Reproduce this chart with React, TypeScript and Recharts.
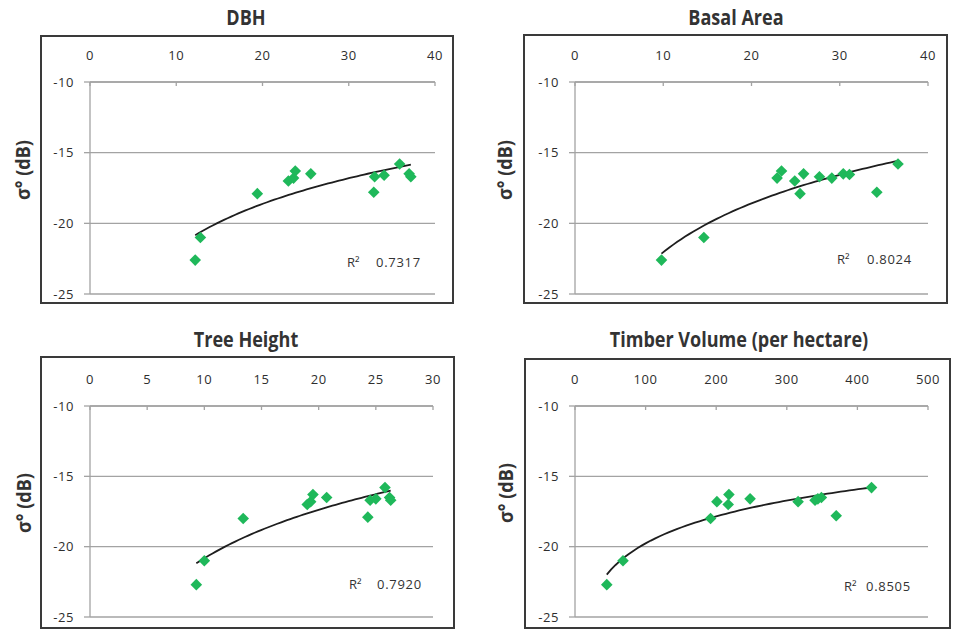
import React from "react";
import { ScatterChart, Scatter, XAxis, YAxis, CartesianGrid } from "recharts";

// ---------- data ----------
const panelTitles = ["DBH", "Basal Area", "Tree Height", "Timber Volume (per hectare)"];
const r2Values = ["0.7317", "0.8024", "0.7920", "0.8505"];

const dbhX = [12.2, 12.8, 19.4, 23.0, 23.6, 23.8, 25.6, 32.9, 33.0, 34.1, 35.9, 37.0, 37.2];
const dbhY = [-22.6, -21.0, -17.9, -17.0, -16.8, -16.3, -16.5, -17.8, -16.7, -16.6, -15.8, -16.5, -16.7];

const basalX = [9.8, 14.6, 22.9, 23.4, 24.9, 25.5, 25.9, 27.7, 29.1, 30.4, 31.1, 34.2, 36.6];
const basalY = [-22.6, -21.0, -16.8, -16.3, -17.0, -17.9, -16.5, -16.7, -16.8, -16.5, -16.55, -17.8, -15.8];

const heightX = [9.3, 10.0, 13.4, 19.0, 19.3, 19.5, 20.7, 24.3, 24.5, 25.0, 25.8, 26.2, 26.3];
const heightY = [-22.7, -21.0, -18.0, -17.0, -16.8, -16.3, -16.5, -17.9, -16.7, -16.6, -15.8, -16.5, -16.7];

const volumeX = [45, 68, 192, 201, 217, 218, 248, 316, 340, 344, 349, 370, 420];
const volumeY = [-22.7, -21.0, -18.0, -16.8, -17.0, -16.3, -16.6, -16.8, -16.7, -16.6, -16.5, -17.8, -15.8];

const ticks40 = [0, 10, 20, 30, 40];
const ticks30 = [0, 5, 10, 15, 20, 25, 30];
const ticks500 = [0, 100, 200, 300, 400, 500];
const yTicks = [-25, -20, -15, -10];

// ---------- helpers ----------
const toPoints = (xs: number[], ys: number[]) => xs.map((x, i) => ({ x, y: ys[i] }));

// Logarithmic least-squares trendline (y = a ln x + b), like Excel's
const logTrend = (xs: number[], ys: number[]) => {
  const n = xs.length;
  const lx = xs.map((x) => Math.log(x));
  const mx = lx.reduce((s, v) => s + v, 0) / n;
  const my = ys.reduce((s, v) => s + v, 0) / n;
  let num = 0;
  let den = 0;
  for (let i = 0; i < n; i++) {
    num += (lx[i] - mx) * (ys[i] - my);
    den += (lx[i] - mx) * (lx[i] - mx);
  }
  const a = num / den;
  const b = my - a * mx;
  const lo = Math.min(...xs);
  const hi = Math.max(...xs);
  const out: { x: number; y: number }[] = [];
  const steps = 60;
  for (let i = 0; i <= steps; i++) {
    const x = lo + ((hi - lo) * i) / steps;
    out.push({ x, y: a * Math.log(x) + b });
  }
  return out;
};

const Diamond = (props: any) => {
  const { cx, cy } = props;
  if (cx == null || cy == null) return <g />;
  const r = 5.8;
  return (
    <polygon
      points={`${cx},${cy - r} ${cx + r},${cy} ${cx},${cy + r} ${cx - r},${cy}`}
      fill="#1fb85a"
    />
  );
};

const NoShape = () => <g />;

type PanelProps = {
  title: string;
  r2: string;
  xs: number[];
  ys: number[];
  xTicks: number[];
  box: { l: number; t: number; r: number; b: number };
  plot: { l: number; t: number; r: number; b: number };
  titleCx: number;
  titleCy: number;
  yLabel: { cx: number; cy: number };
  r2Pos: { x: number; vx: number; y: number };
};

const gridColor = "#a3a3a3";
const textColor = "#333333";
const tickFont = { fontSize: 13, fill: "#2e2e2e", fontFamily: "'Open Sans', sans-serif", letterSpacing: 0.6 };

const Panel = (p: PanelProps) => {
  const w = p.box.r - p.box.l;
  const h = p.box.b - p.box.t;
  const yAxisW = 45;
  const xAxisH = 30;
  const margin = {
    left: p.plot.l - p.box.l - yAxisW,
    top: p.plot.t - p.box.t - xAxisH,
    right: p.box.r - p.plot.r,
    bottom: p.box.b - p.plot.b,
  };
  const pts = toPoints(p.xs, p.ys);
  const trend = logTrend(p.xs, p.ys);
  const xMax = p.xTicks[p.xTicks.length - 1];
  return (
    <>
      <div
        style={{
          position: "absolute",
          left: p.titleCx - 200,
          width: 400,
          top: p.titleCy - 15,
          height: 30,
          lineHeight: "30px",
          textAlign: "center",
          fontFamily: "'Open Sans', sans-serif",
          fontWeight: 700,
          fontSize: 20.5,
          color: textColor,
          transform: "scaleX(0.88)",
        }}
      >
        {p.title}
      </div>
      <div
        style={{
          position: "absolute",
          left: p.yLabel.cx - 60,
          top: p.yLabel.cy - 13,
          width: 120,
          height: 26,
          lineHeight: "26px",
          textAlign: "center",
          fontFamily: "'Open Sans', sans-serif",
          fontWeight: 700,
          fontSize: 20,
          color: textColor,
          transform: "rotate(-90deg) scaleX(0.9)",
        }}
      >
        σ° (dB)
      </div>
      <div
        style={{
          position: "absolute",
          left: p.box.l,
          top: p.box.t,
          width: w,
          height: h,
          boxSizing: "border-box",
          border: "2px solid #3a3a3a",
        }}
      />
      <div style={{ position: "absolute", left: p.box.l, top: p.box.t }}>
        <ScatterChart width={w} height={h} margin={margin}>
          <CartesianGrid vertical={false} stroke={gridColor} strokeWidth={1.3} />
          <XAxis
            type="number"
            dataKey="x"
            orientation="top"
            domain={[0, xMax]}
            ticks={p.xTicks}
            height={xAxisH}
            tickSize={-4}
            tickMargin={26}
            allowDataOverflow
            axisLine={{ stroke: gridColor, strokeWidth: 1.3 }}
            tickLine={{ stroke: gridColor, strokeWidth: 1.3 }}
            tick={tickFont}
            interval={0}
          />
          <YAxis
            type="number"
            dataKey="y"
            domain={[-25, -10]}
            ticks={yTicks}
            width={yAxisW}
            tickSize={6}
            tickMargin={10}
            allowDataOverflow
            axisLine={{ stroke: gridColor, strokeWidth: 1.3 }}
            tickLine={{ stroke: gridColor, strokeWidth: 1.3 }}
            tick={tickFont}
            interval={0}
          />
          <Scatter
            data={trend}
            line={{ stroke: "#1e1e1e", strokeWidth: 1.8 }}
            lineType="joint"
            shape={NoShape}
            isAnimationActive={false}
          />
          <Scatter data={pts} shape={Diamond} isAnimationActive={false} />
        </ScatterChart>
      </div>
      <div
        style={{
          position: "absolute",
          left: p.r2Pos.x,
          top: p.r2Pos.y - 9,
          lineHeight: "18px",
          fontFamily: "'Open Sans', sans-serif",
          fontSize: 13,
          color: textColor,
          whiteSpace: "nowrap",
        }}
      >
        R²
      </div>
      <div
        style={{
          position: "absolute",
          left: p.r2Pos.vx,
          top: p.r2Pos.y - 9,
          lineHeight: "18px",
          fontFamily: "'Open Sans', sans-serif",
          fontSize: 13,
          letterSpacing: 0.7,
          color: textColor,
          whiteSpace: "nowrap",
        }}
      >
        {p.r2}
      </div>
    </>
  );
};

export default function App() {
  return (
    <div
      style={{
        position: "absolute",
        left: 0,
        top: 0,
        width: 957,
        height: 630,
        background: "#ffffff",
        overflow: "hidden",
      }}
    >
      <Panel
        title={panelTitles[0]}
        r2={r2Values[0]}
        xs={dbhX}
        ys={dbhY}
        xTicks={ticks40}
        box={{ l: 40, t: 35, r: 454, b: 304 }}
        plot={{ l: 90, t: 82, r: 435, b: 294 }}
        titleCx={246}
        titleCy={17}
        yLabel={{ cx: 23, cy: 170 }}
        r2Pos={{ x: 347, vx: 376, y: 262 }}
      />
      <Panel
        title={panelTitles[1]}
        r2={r2Values[1]}
        xs={basalX}
        ys={basalY}
        xTicks={ticks40}
        box={{ l: 523, t: 34, r: 948, b: 304 }}
        plot={{ l: 575, t: 82, r: 928, b: 294 }}
        titleCx={736}
        titleCy={17}
        yLabel={{ cx: 505, cy: 170 }}
        r2Pos={{ x: 837, vx: 867, y: 259 }}
      />
      <Panel
        title={panelTitles[2]}
        r2={r2Values[2]}
        xs={heightX}
        ys={heightY}
        xTicks={ticks30}
        box={{ l: 40, t: 356, r: 455, b: 629 }}
        plot={{ l: 90, t: 406, r: 433, b: 617 }}
        titleCx={246}
        titleCy={339}
        yLabel={{ cx: 24, cy: 503 }}
        r2Pos={{ x: 349, vx: 377, y: 584 }}
      />
      <Panel
        title={panelTitles[3]}
        r2={r2Values[3]}
        xs={volumeX}
        ys={volumeY}
        xTicks={ticks500}
        box={{ l: 524, t: 358, r: 951, b: 629 }}
        plot={{ l: 575, t: 406, r: 928, b: 617 }}
        titleCx={739}
        titleCy={339}
        yLabel={{ cx: 506, cy: 493 }}
        r2Pos={{ x: 844, vx: 866, y: 586 }}
      />
    </div>
  );
}
